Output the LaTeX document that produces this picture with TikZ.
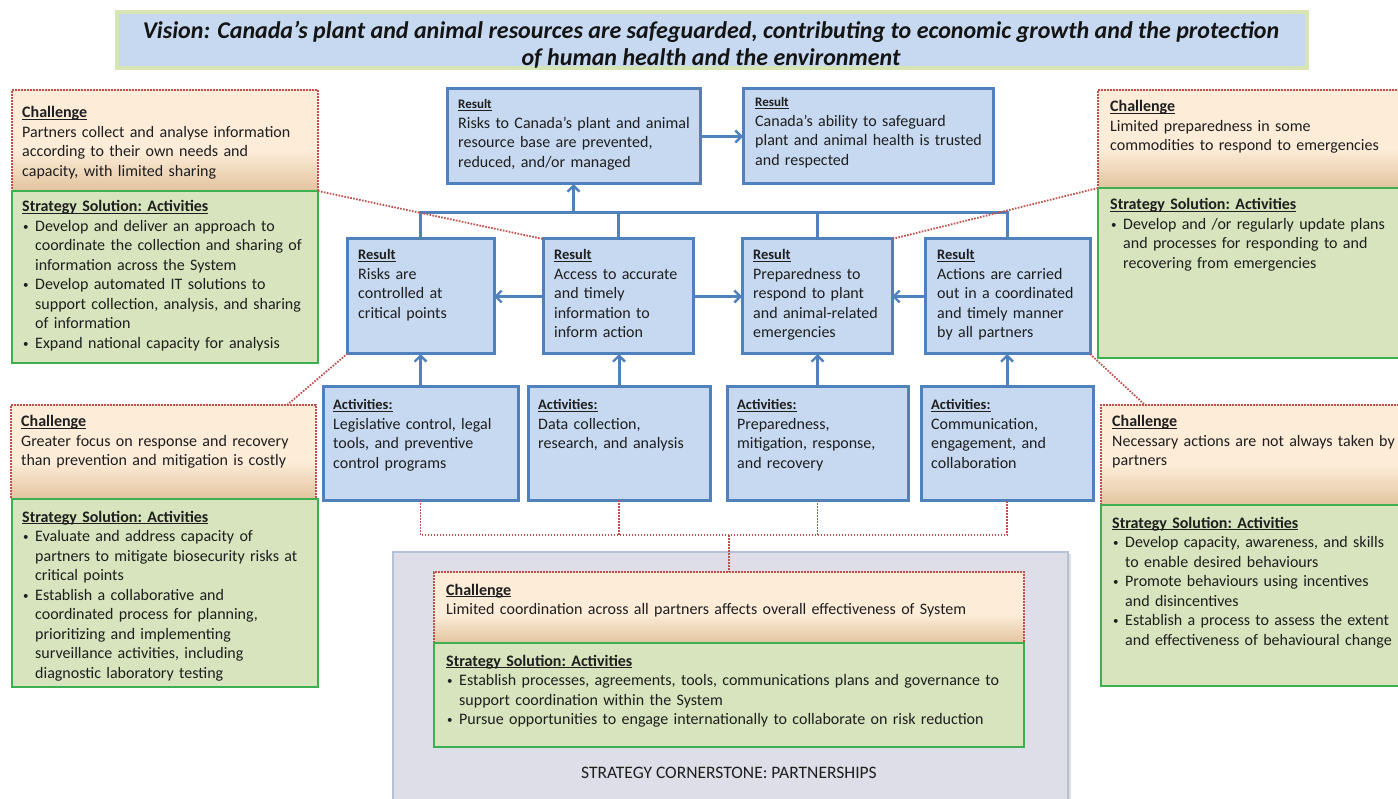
\documentclass[tikz,border=0pt]{standalone}
\usepackage{fontspec}
\setmainfont{Carlito}
\usetikzlibrary{arrows.meta,shadows}

\definecolor{bluefill}{RGB}{198,217,241}
\definecolor{blueedge}{RGB}{79,129,189}
\definecolor{greenfill}{RGB}{215,228,189}
\definecolor{greenedge}{RGB}{60,176,80}
\definecolor{peach}{RGB}{252,236,216}
\definecolor{tan}{RGB}{226,196,158}
\definecolor{dotred}{RGB}{192,80,77}
\definecolor{grayfill}{RGB}{222,222,232}
\definecolor{grayedge}{RGB}{180,193,214}
\definecolor{visionedge}{RGB}{215,228,180}
\definecolor{ink}{RGB}{30,30,30}

% challenge panels: plain peach, darkening towards the bottom edge
\pgfdeclareverticalshading{challengeshade}{100bp}{%
  color(0bp)=(tan); color(25bp)=(tan); color(45bp)=(peach);
  color(75bp)=(peach); color(100bp)=(peach)}

\newsavebox\hdbox
\newcommand\bl{\makebox[13pt][l]{\hspace{1pt}\raisebox{1pt}{\fontsize{11}{12}\selectfont\textbullet}}}
\newcommand\ind{\hspace*{13pt}}
% bold heading with a thin underline just below the baseline
\newcommand\hd[1]{\sbox\hdbox{\textbf{#1}}\rlap{\rule[-2pt]{\wd\hdbox}{0.8pt}}\usebox\hdbox}
\newcommand\hdsmall[1]{{\fontsize{13}{12}\selectfont\hd{#1}}}
\newcommand\hdbig[1]{{\fontsize{14.5}{12}\selectfont\hd{#1}}}

\tikzset{
  box/.style={anchor=north west, inner sep=0pt, outer sep=0pt},
  resbox/.style={box, draw=blueedge, fill=bluefill, line width=3pt},
  chalbox/.style={box, draw=dotred, shading=challengeshade, line width=1.6pt,
    dash pattern=on 1.6pt off 1.4pt},
  solbox/.style={box, draw=greenedge, fill=greenfill, line width=2.6pt},
  txt/.style={anchor=base west, inner sep=0pt, align=left, text=ink,
    font=\fontsize{16}{19.5}\selectfont\frenchspacing},
  conn/.style={draw=blueedge, line width=3pt},
  arr/.style={-{Straight Barb[length=6pt,width=12pt,line width=2.4pt]}},
  dots/.style={draw=dotred, line width=1.8pt, dash pattern=on 1.6pt off 1.4pt},
}

\begin{document}
\begin{tikzpicture}[x=1pt,y=-1pt]
\useasboundingbox (0,0) rectangle (1398,799);
\clip (0,0) rectangle (1398,799);
\fill[white] (0,0) rectangle (1398,799);

% ---------- vision banner ----------
\node[box, draw=visionedge, fill=bluefill, line width=4pt,
  minimum width=1190pt, minimum height=56pt] (vision) at (117,12) {};
\node[inner sep=0pt, align=center, text=black!92,
  font=\fontsize{24}{27}\selectfont\bfseries\itshape] (visiontxt) at (711,44.5)
  {Vision: Canada’s plant and animal resources are safeguarded, contributing to economic growth and the protection\\
   of human health and the environment};

% ---------- partnerships cornerstone ----------
\node[box, draw=grayedge, fill=grayfill, line width=1.5pt,
  drop shadow={opacity=0.25, shadow xshift=3pt, shadow yshift=-2pt},
  minimum width=675pt, minimum height=260pt] (corner) at (393,552) {};
\node[inner sep=0pt, text=ink, font=\fontsize{17.5}{20}\selectfont] (cornertxt)
  at (729,773) {STRATEGY CORNERSTONE: PARTNERSHIPS};

% ---------- results ----------
\node[resbox, minimum width=253pt, minimum height=95pt] (r1) at (447,89) {};
\node[resbox, minimum width=250pt, minimum height=95pt] (r2) at (743,89) {};
\node[resbox, minimum width=147pt, minimum height=115pt] (m1) at (347,239) {};
\node[resbox, minimum width=150pt, minimum height=115pt] (m2) at (543,239) {};
\node[resbox, minimum width=150pt, minimum height=115pt] (m3) at (742,239) {};
\node[resbox, minimum width=165pt, minimum height=115pt] (m4) at (925,239) {};

% ---------- activities ----------
\node[resbox, minimum width=195pt, minimum height=113pt] (a1) at (323,387) {};
\node[resbox, minimum width=182pt, minimum height=113pt] (a2) at (528,387) {};
\node[resbox, minimum width=181pt, minimum height=113pt] (a3) at (727,387) {};
\node[resbox, minimum width=172pt, minimum height=113pt] (a4) at (921,387) {};

% ---------- challenge / solution panels ----------
\node[chalbox, minimum width=306pt, minimum height=101pt] (lc1) at (12,90) {};
\node[solbox,  minimum width=306pt, minimum height=172pt] (ls1) at (12,191) {};
\node[chalbox, minimum width=305pt, minimum height=94pt]  (lc2) at (11,405) {};
\node[solbox,  minimum width=306pt, minimum height=188pt] (ls2) at (12,499) {};
\node[chalbox, minimum width=306pt, minimum height=98pt]  (rc1) at (1098,90) {};
\node[solbox,  minimum width=306pt, minimum height=170pt] (rs1) at (1098,188) {};
\node[chalbox, minimum width=303pt, minimum height=100pt] (rc2) at (1101,405) {};
\node[solbox,  minimum width=303pt, minimum height=181pt] (rs2) at (1101,505) {};
\node[chalbox, minimum width=590pt, minimum height=71pt]  (bc) at (434,572) {};
\node[solbox,  minimum width=590pt, minimum height=104pt] (bs) at (434,643) {};

% ---------- blue connectors ----------
\coordinate (bus) at (0,213);
\draw[conn, arr] (r1.east) -- (r2.west |- r1.east);
\draw[conn, line join=miter] (m1.north) -- (m1.north |- bus) -- (m4.north |- bus) -- (m4.north);
\draw[conn] (m2.north |- bus) -- (m2.north);
\draw[conn] (m3.north |- bus) -- (m3.north);
\draw[conn, arr] (r1.south |- bus) -- (r1.south);
\draw[conn, arr] (m2.west) -- (m1.east);
\draw[conn, arr] (m2.east) -- (m3.west);
\draw[conn, arr] (m4.west) -- (m3.east);
\draw[conn, arr] (a1.north) -- (m1.south);
\draw[conn, arr] (a2.north) -- (m2.south -| a2.north);
\draw[conn, arr] (a3.north) -- (m3.south -| a3.north);
\draw[conn, arr] (a4.north) -- (m4.south -| a4.north);

% ---------- red dotted links ----------
\coordinate (join) at (0,535);
\draw[dots] (a1.south) -- (a1.south |- join) -- (a4.south |- join) -- (a4.south);
\draw[dots] (a2.south) -- (a2.south |- join);
\draw[dots] (a3.south) -- (a3.south |- join);
\draw[dots] (bc.north |- join) -- (bc.north);
\draw[dots] (lc1.south east) -- (m2.north west);
\draw[dots] ([xshift=-29pt]lc2.north east) -- (m1.south west);
\draw[dots] (rc1.south west) -- (m3.north east);
\draw[dots] (m4.south east) -- ([xshift=44pt]rc2.north west);

% ---------- result texts ----------
\node[txt, text width=260pt] (r1txt) at (458,109)
  {\hdsmall{Result}\\[0pt]
   Risks to Canada’s plant and animal\\ resource base are prevented,\\ reduced, and/or managed};
\node[txt, text width=260pt] (r2txt) at (755,107)
  {\hdsmall{Result}\\[0pt]
   Canada’s ability to safeguard\\ plant and animal health is trusted\\ and respected};
\node[txt, text width=170pt] (m1txt) at (358,260)
  {\hdbig{Result}\\ Risks are\\ controlled at\\ critical points};
\node[txt, text width=170pt] (m2txt) at (554,260)
  {\hdbig{Result}\\ Access to accurate\\ and timely\\ information to\\ inform action};
\node[txt, text width=170pt] (m3txt) at (753,260)
  {\hdbig{Result}\\ Preparedness to\\ respond to plant\\ and animal-related\\ emergencies};
\node[txt, text width=180pt] (m4txt) at (937,260)
  {\hdbig{Result}\\ Actions are carried\\ out in a coordinated\\ and timely manner\\ by all partners};

% ---------- activity texts ----------
\node[txt, text width=200pt] (a1txt) at (333,410)
  {\hdbig{Activities:}\\ Legislative control, legal\\ tools, and preventive\\ control programs};
\node[txt, text width=200pt] (a2txt) at (538,410)
  {\hdbig{Activities:}\\ Data collection,\\ research, and analysis};
\node[txt, text width=200pt] (a3txt) at (737,410)
  {\hdbig{Activities:}\\ Preparedness,\\ mitigation, response,\\ and recovery};
\node[txt, text width=200pt] (a4txt) at (931,410)
  {\hdbig{Activities:}\\ Communication,\\ engagement, and\\ collaboration};

% ---------- left panels ----------
\node[txt, text width=320pt] (lc1txt) at (22,118)
  {\hd{Challenge}\\ Partners collect and analyse information\\ according to their own needs and\\ capacity, with limited sharing};
\node[txt, text width=320pt] (ls1txt) at (22,212)
  {\hd{Strategy Solution: Activities}\\
   \bl Develop and deliver an approach to\\
   \ind coordinate the collection and sharing of\\
   \ind information across the System\\
   \bl Develop automated IT solutions to\\
   \ind support collection, analysis, and sharing\\
   \ind of information\\
   \bl Expand national capacity for analysis};
\node[txt, text width=320pt] (lc2txt) at (21,427)
  {\hd{Challenge}\\ Greater focus on response and recovery\\ than prevention and mitigation is costly};
\node[txt, text width=320pt] (ls2txt) at (22,522)
  {\hd{Strategy Solution: Activities}\\
   \bl Evaluate and address capacity of\\
   \ind partners to mitigate biosecurity risks at\\
   \ind critical points\\
   \bl Establish a collaborative and\\
   \ind coordinated process for planning,\\
   \ind prioritizing and implementing\\
   \ind surveillance activities, including\\
   \ind diagnostic laboratory testing};

% ---------- right panels ----------
\node[txt, text width=320pt] (rc1txt) at (1110,112)
  {\hd{Challenge}\\ Limited preparedness in some\\ commodities to respond to emergencies};
\node[txt, text width=320pt] (rs1txt) at (1110,210)
  {\hd{Strategy Solution: Activities}\\
   \bl Develop and /or regularly update plans\\
   \ind and processes for responding to and\\
   \ind recovering from emergencies};
\node[txt, text width=320pt] (rc2txt) at (1112,427)
  {\hd{Challenge}\\ Necessary actions are not always taken by\\ partners};
\node[txt, text width=320pt] (rs2txt) at (1112,528)
  {\hd{Strategy Solution: Activities}\\
   \bl Develop capacity, awareness, and skills\\
   \ind to enable desired behaviours\\
   \bl Promote behaviours using incentives\\
   \ind and disincentives\\
   \bl Establish a process to assess the extent\\
   \ind and effectiveness of behavioural change};

% ---------- partnership panel ----------
\node[txt, text width=620pt] (bctxt) at (446,595)
  {\hd{Challenge}\\ Limited coordination across all partners affects overall effectiveness of System};
\node[txt, text width=620pt] (bstxt) at (446,666)
  {\hd{Strategy Solution: Activities}\\
   \bl Establish processes, agreements, tools, communications plans and governance to\\
   \ind support coordination within the System\\
   \bl Pursue opportunities to engage internationally to collaborate on risk reduction};
\end{tikzpicture}
\end{document}
